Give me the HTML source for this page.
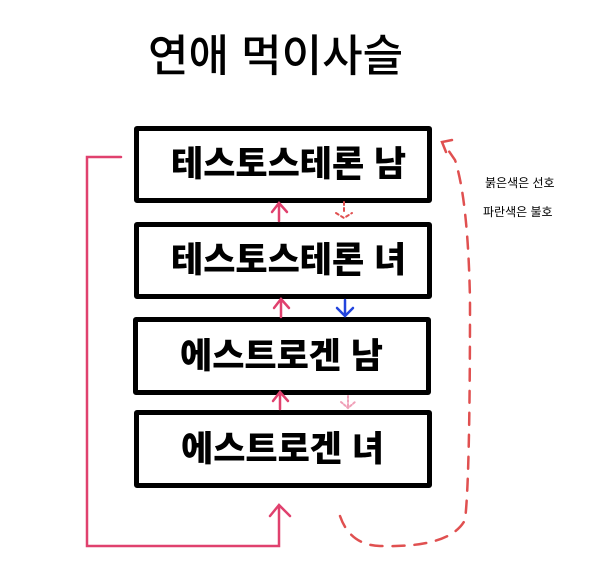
<!DOCTYPE html>
<html><head><meta charset="utf-8"><style>
body{margin:0;width:600px;height:573px;background:#fff;position:relative;overflow:hidden;font-family:"Liberation Sans","Noto Sans CJK KR",sans-serif}
.b{position:absolute;border:5px solid #000;border-radius:3px;box-sizing:border-box;font-weight:900;font-size:35px;line-height:1;display:flex;align-items:center;padding-left:32px}
.t{position:absolute}
</style></head><body>
<div class="t" style="left:148px;top:20px;font-size:44px;font-weight:500">연애 먹이사슬</div>
<div class="b" style="left:134px;top:126px;width:298px;height:77px">테스토스테론 남</div>
<div class="b" style="left:134px;top:222px;width:298px;height:77px">테스토스테론 녀</div>
<div class="b" style="left:133px;top:317px;width:298px;height:78px;padding-left:42px">에스트로겐 남</div>
<div class="b" style="left:134px;top:410px;width:298px;height:78px;padding-left:42px">에스트로겐 녀</div>
<div class="t" style="left:485px;top:174px;font-size:12px">붉은색은 선호</div>
<div class="t" style="left:483px;top:203px;font-size:12px">파란색은 불호</div>
<svg width="600" height="573" style="position:absolute;left:0;top:0" fill="none" stroke-linecap="round">
<g stroke="#e0416e" stroke-width="2.5">
<polyline points="121,157 87,157 87,546 279,546 279,506"/>
<polyline points="270,516 279,505 290,516"/>
<path d="M279,221 V204 M272,212 279,203 287,212"/>
<path d="M281,317 V300 M274,308 281,299 289,308"/>
<path d="M280,409 V393 M273,401 280,392 288,401"/>
</g>
<g stroke="#e05050" stroke-width="2.5" stroke-dasharray="12,10">
<path d="M340,516 Q350,545 380,546 Q450,548 465,520 Q470,480 470,300 Q468,200 455,160 L444,144"/>
</g>
<path d="M452,140 L442,142 L446,152" stroke="#e05050" stroke-width="2.5"/>
<path d="M344,202 V214 M336,213 344,218 352,213" stroke="#e05050" stroke-width="2" stroke-dasharray="3,3"/>
<path d="M345,300 V316 M337,308 345,316 353,308" stroke="#2244dd" stroke-width="2.5"/>
<path d="M348,396 V408 M341,402 348,408 355,402" stroke="#f0a0b8" stroke-width="2" stroke-dasharray="2,2"/>
</svg>
</body></html>
